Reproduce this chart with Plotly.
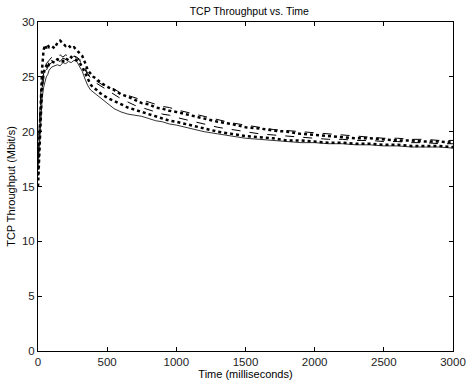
import plotly.graph_objects as go

t = [0, 10, 20, 30, 40, 50, 60, 70, 80, 100, 120, 140, 160, 180, 200, 220, 240, 260, 280, 300,
     320, 340, 360, 380, 400, 425, 450, 475, 500, 550, 600, 650, 700, 750, 800, 850, 900, 950,
     1000, 1100, 1200, 1300, 1400, 1500, 1600, 1700, 1800, 1900, 2000, 2100, 2200, 2300, 2400,
     2500, 2600, 2700, 2800, 2900, 3000]

s1 = [16.0, 19.5, 23.0, 25.8, 27.4, 27.9, 27.6, 27.9, 27.7, 27.8, 27.6, 28.1, 28.3, 28.0, 27.8,
      27.9, 27.6, 27.7, 27.4, 27.2, 26.9, 26.3, 25.6, 25.3, 25.0, 24.8, 24.5, 24.3, 24.1, 23.8,
      23.4, 23.2, 22.9, 22.6, 22.5, 22.2, 22.1, 21.9, 21.8, 21.5, 21.2, 20.9, 20.7, 20.4, 20.3,
      20.1, 20.0, 19.8, 19.7, 19.6, 19.5, 19.4, 19.4, 19.3, 19.2, 19.2, 19.1, 19.1, 19.0]
s2 = [17.5, 20.5, 22.8, 24.0, 24.9, 25.4, 25.6, 25.9, 26.1, 26.3, 26.2, 26.5, 26.4, 26.7, 26.6,
      26.8, 26.7, 26.9, 26.8, 26.6, 26.4, 25.8, 25.3, 25.0, 24.7, 24.6, 24.4, 24.2, 24.1, 23.9,
      23.5, 23.3, 23.1, 22.9, 22.7, 22.5, 22.3, 22.2, 22.0, 21.7, 21.4, 21.1, 20.8, 20.6, 20.4,
      20.2, 20.1, 20.0, 19.9, 19.8, 19.7, 19.6, 19.5, 19.4, 19.4, 19.3, 19.3, 19.2, 19.2]
s3 = [16.5, 19.0, 21.5, 23.0, 24.0, 24.6, 25.0, 25.2, 25.6, 25.9, 26.0, 26.1, 26.0, 26.3, 26.2,
      26.4, 26.3, 26.5, 26.4, 26.0, 25.5, 24.8, 24.2, 23.8, 23.6, 23.3, 23.1, 22.8, 22.6, 22.1,
      21.8, 21.6, 21.5, 21.4, 21.2, 21.0, 20.9, 20.7, 20.6, 20.3, 20.0, 19.8, 19.6, 19.4, 19.3,
      19.2, 19.1, 19.0, 19.0, 18.9, 18.9, 18.8, 18.8, 18.7, 18.7, 18.6, 18.6, 18.6, 18.5]
s4 = [15.0, 18.5, 22.0, 24.3, 25.2, 25.8, 26.0, 25.8, 26.2, 26.4, 26.3, 26.6, 26.5, 26.4, 26.7,
      26.5, 26.8, 26.6, 26.5, 26.3, 25.9, 25.4, 24.8, 24.3, 24.0, 23.8, 23.5, 23.3, 23.1, 22.8,
      22.5, 22.2, 22.0, 21.8, 21.6, 21.4, 21.2, 21.0, 20.9, 20.6, 20.3, 20.0, 19.8, 19.6, 19.5,
      19.4, 19.2, 19.2, 19.1, 19.0, 19.0, 18.9, 18.9, 18.8, 18.8, 18.7, 18.7, 18.7, 18.6]
s5 = [18.0, 21.0, 23.5, 24.6, 25.4, 25.9, 26.2, 26.4, 26.5, 26.8, 26.7, 26.9, 27.0, 26.8, 27.0,
      26.9, 27.1, 26.9, 26.7, 26.5, 26.1, 25.6, 25.2, 24.9, 24.6, 24.4, 24.2, 24.0, 23.8, 23.4,
      23.0, 22.7, 22.4, 22.2, 22.0, 21.8, 21.6, 21.5, 21.3, 21.0, 20.7, 20.4, 20.2, 20.0, 19.8,
      19.7, 19.6, 19.5, 19.4, 19.3, 19.3, 19.2, 19.2, 19.1, 19.1, 19.0, 19.0, 18.9, 18.9]

series = [
    (s1, "dot", 2.5),
    (s2, "dash", 1),
    (s3, "solid", 0.8),
    (s4, "dot", 2.5),
    (s5, "dash", 1),
]

fig = go.Figure()
for ys, dash, w in series:
    fig.add_trace(go.Scatter(x=t, y=ys, mode="lines",
                             line=dict(color="black", width=w, dash=dash),
                             showlegend=False))

fam = "Liberation Sans, Arial, sans-serif"
tickfont = dict(family=fam, size=11.5, color="#222")
labfont = dict(family=fam, size=11, color="black")
axis_common = dict(showline=True, mirror="ticks", linecolor="black", linewidth=1,
                   ticks="inside", ticklen=4, tickcolor="black", showgrid=False,
                   zeroline=False, tickfont=tickfont, automargin=False)

fig.update_layout(
    width=466, height=385,
    margin=dict(l=38, r=13, t=22, b=34, autoexpand=False),
    paper_bgcolor="white", plot_bgcolor="white",
    font=labfont,
    title=dict(text="TCP Throughput vs. Time", x=0.535, xanchor="center",
               y=0.98, yanchor="top", font=dict(size=10.5, family=fam, color="black")),
    xaxis=dict(range=[0, 3000], tickvals=[0, 500, 1000, 1500, 2000, 2500, 3000],
               title=dict(text="Time (milliseconds)", standoff=0, font=labfont),
               **axis_common),
    yaxis=dict(range=[0, 30], tickvals=[0, 5, 10, 15, 20, 25, 30],
               title=dict(text="TCP Throughput (Mbit/s)", standoff=4, font=labfont),
               **axis_common),
)

fig.write_html("out.html")
